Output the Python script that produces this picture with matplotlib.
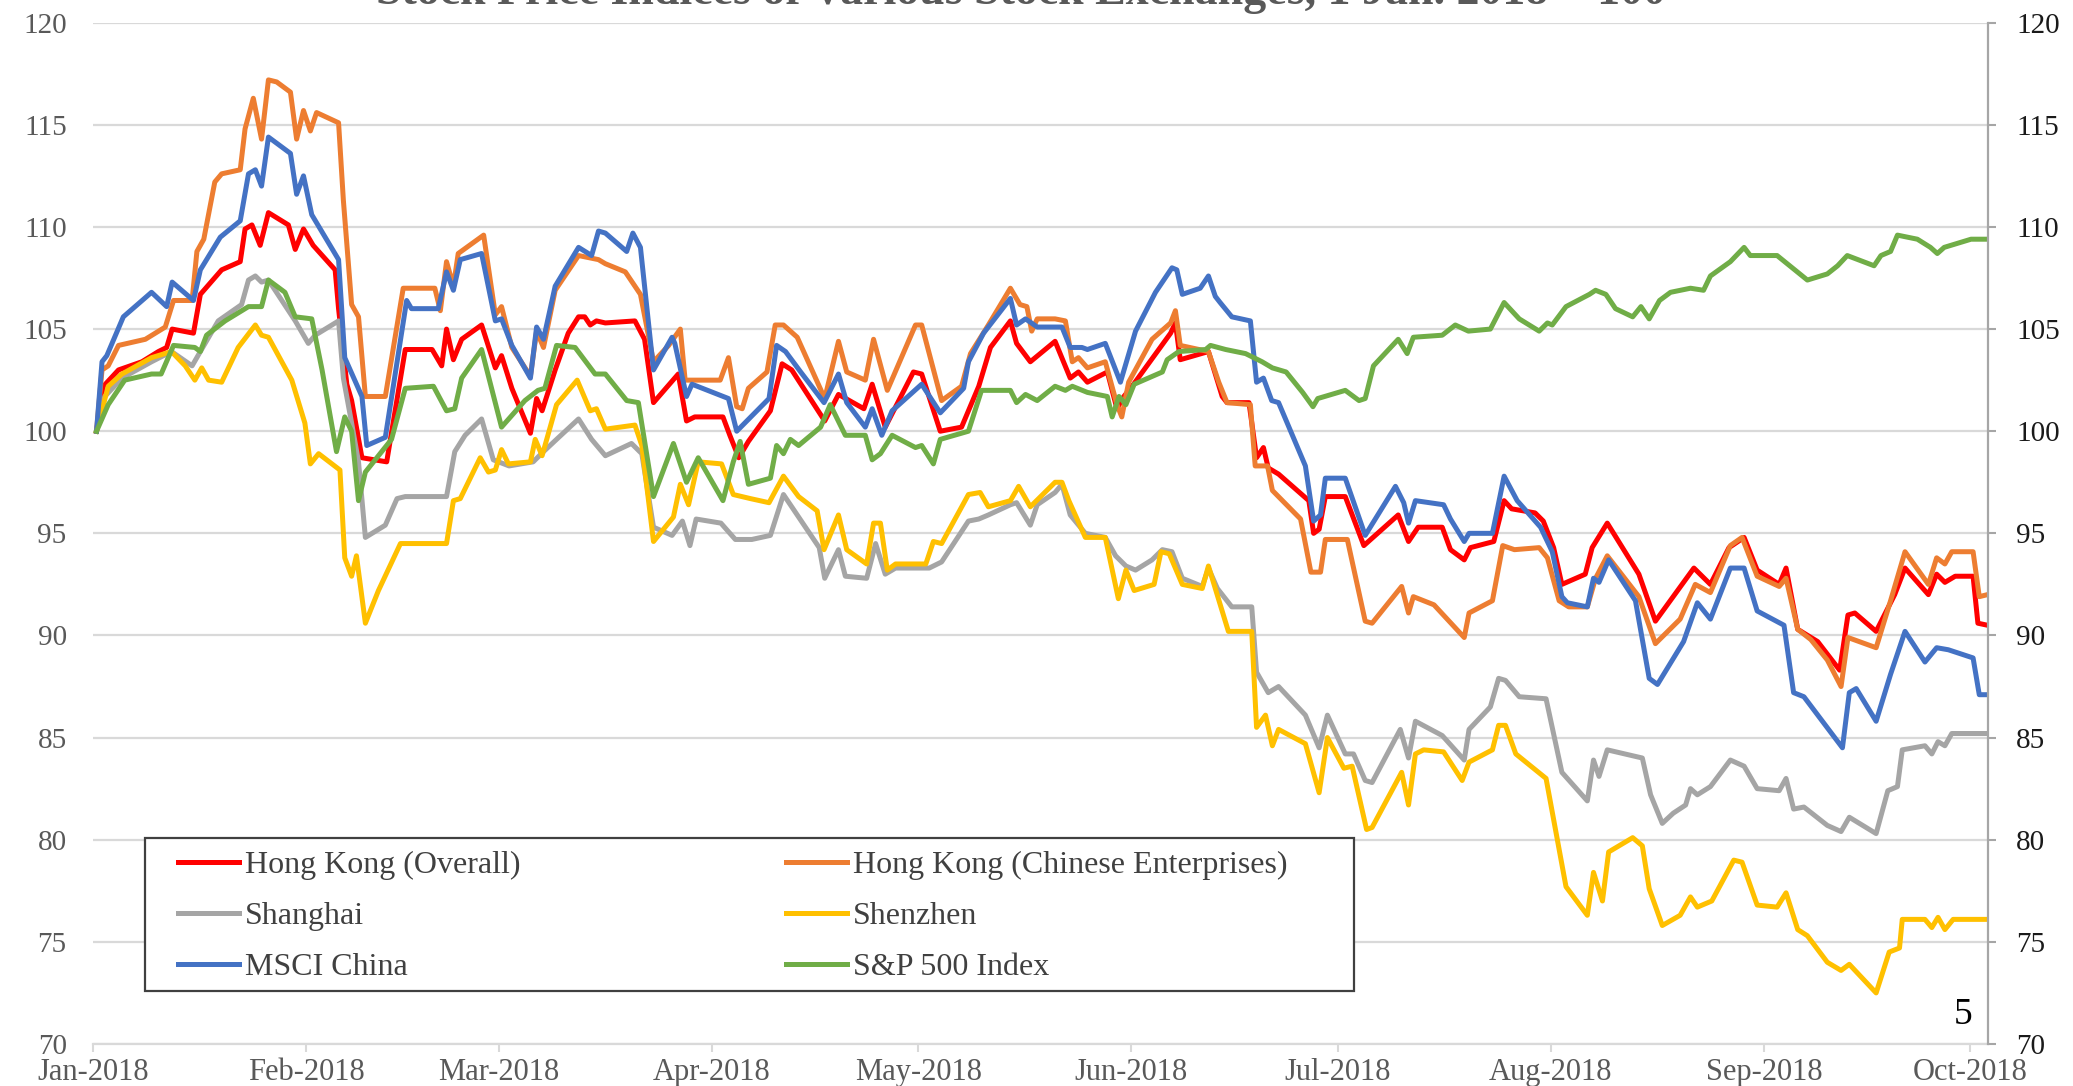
import matplotlib
matplotlib.use('Agg')
import matplotlib.pyplot as plt
from matplotlib.patches import Rectangle

plt.rcParams['font.family'] = ['Liberation Serif', 'DejaVu Serif']

# x = days since 1 Jan 2018, y = index (1 Jan 2018 = 100)
month_days = [0, 31, 59, 90, 120, 151, 181, 212, 243, 273]
month_labels = ['Jan-2018', 'Feb-2018', 'Mar-2018', 'Apr-2018', 'May-2018',
                'Jun-2018', 'Jul-2018', 'Aug-2018', 'Sep-2018', 'Oct-2018']
y_ticks = [70, 75, 80, 85, 90, 95, 100, 105, 110, 115, 120]

hk_overall = [
    (0.5, 100), (1.5, 102.2), (3.7, 103.0), (7.1, 103.4), (9.5, 103.9), (10.7, 104.1), (11.5, 105.0),
    (14.6, 104.8), (15.6, 106.7), (18.7, 107.9), (21.4, 108.3), (22.1, 109.9), (23.1, 110.1), (24.3, 109.1),
    (25.5, 110.7), (28.4, 110.1), (29.4, 108.9), (30.6, 109.9), (32.0, 109.1), (35.2, 107.9), (35.7, 106.0),
    (36.9, 102.3), (37.6, 101.5), (39.1, 98.7), (42.7, 98.5), (45.4, 104.0), (49.3, 104.0), (50.7, 103.2),
    (51.4, 105.0), (52.4, 103.5), (53.6, 104.5), (56.5, 105.2), (58.5, 103.1), (59.4, 103.7), (60.9, 102.1),
    (63.6, 99.9), (64.5, 101.6), (65.3, 101.0), (67.2, 103.0), (69.1, 104.8), (70.6, 105.6), (71.5, 105.6),
    (72.3, 105.2), (73.2, 105.4), (74.5, 105.3), (78.8, 105.4), (80.2, 104.5), (81.5, 101.4), (85.1, 102.8),
    (86.3, 100.5), (87.5, 100.7), (91.6, 100.7), (92.6, 99.8), (93.9, 98.7), (95.3, 99.5), (98.5, 101.0),
    (100.2, 103.3), (101.6, 103.0), (106.4, 100.5), (108.4, 101.8), (112.1, 101.1), (113.3, 102.3),
    (115.2, 100.2), (119.3, 102.9), (120.5, 102.8), (123.2, 100.0), (126.3, 100.2), (128.8, 102.2),
    (130.5, 104.1), (133.4, 105.4), (134.3, 104.3), (136.3, 103.4), (139.9, 104.4), (142.1, 102.6),
    (143.3, 102.9), (144.6, 102.4), (147.5, 102.9), (148.9, 101.1), (149.9, 101.7), (151.1, 102.2),
    (156.7, 104.8), (157.4, 105.3), (158.1, 103.5), (162.2, 103.9), (164.2, 101.7), (164.9, 101.4),
    (168.1, 101.4), (169.2, 98.7), (170.2, 99.2), (170.9, 98.2), (172.4, 97.9), (176.8, 96.6), (177.5, 95.0),
    (178.3, 95.2), (179.2, 96.8), (182.1, 96.8), (184.8, 94.4), (189.8, 95.9), (191.3, 94.6), (192.7, 95.3),
    (196.2, 95.3), (197.4, 94.2), (199.4, 93.7), (200.3, 94.3), (203.7, 94.6), (205.2, 96.6), (206.3, 96.2),
    (209.7, 96.0), (210.9, 95.6), (212.4, 94.3), (213.6, 92.5), (217.0, 93.0), (218.0, 94.3), (220.2, 95.5),
    (224.8, 93.0), (227.2, 90.7), (232.8, 93.3), (235.2, 92.5), (237.9, 94.3), (240.1, 94.8), (242.0, 93.2),
    (245.2, 92.5), (246.2, 93.3), (247.9, 90.3), (250.8, 89.7), (254.0, 88.3), (255.2, 91.0), (256.2, 91.1),
    (259.3, 90.2), (262.0, 92.0), (263.5, 93.3), (266.9, 92.0), (268.1, 93.0), (269.3, 92.6), (270.8, 92.9),
    (273.4, 92.9), (274.1, 90.6), (275.5, 90.5),
]

hk_chinese = [
    (0.5, 100), (1.3, 103.0), (2.2, 103.2), (3.7, 104.2), (7.6, 104.5), (10.5, 105.1), (11.7, 106.4),
    (14.4, 106.4), (15.1, 108.8), (16.1, 109.4), (17.7, 112.2), (18.7, 112.6), (21.4, 112.8), (22.1, 114.8),
    (23.3, 116.3), (24.5, 114.3), (25.5, 117.2), (26.7, 117.1), (28.7, 116.6), (29.6, 114.3), (30.6, 115.7),
    (31.6, 114.7), (32.5, 115.6), (35.7, 115.1), (36.4, 111.3), (37.6, 106.2), (38.6, 105.6), (39.6, 101.7),
    (42.5, 101.7), (45.1, 107.0), (49.7, 107.0), (50.5, 105.9), (51.4, 108.3), (52.4, 107.1), (53.1, 108.7),
    (56.8, 109.6), (58.5, 105.7), (59.4, 106.1), (60.9, 104.1), (63.6, 102.7), (64.5, 104.9), (65.5, 104.1),
    (67.2, 106.9), (70.6, 108.6), (73.5, 108.4), (74.5, 108.2), (77.4, 107.8), (79.6, 106.7), (81.5, 103.4),
    (83.7, 104.2), (85.4, 105.0), (86.1, 102.5), (91.2, 102.5), (92.4, 103.6), (93.6, 101.2), (94.4, 101.1),
    (95.3, 102.1), (98.0, 102.9), (99.2, 105.2), (100.4, 105.2), (102.4, 104.6), (106.4, 101.6),
    (108.4, 104.4), (109.6, 102.9), (112.3, 102.5), (113.5, 104.5), (115.5, 102.0), (119.6, 105.2),
    (120.5, 105.2), (123.4, 101.5), (126.3, 102.2), (127.6, 103.8), (130.2, 105.2), (133.4, 107.0),
    (134.8, 106.2), (135.8, 106.1), (136.5, 104.9), (137.3, 105.5), (139.9, 105.5), (141.4, 105.4),
    (142.4, 103.4), (143.3, 103.6), (144.6, 103.1), (147.2, 103.4), (148.9, 101.3), (149.6, 100.7),
    (150.6, 102.4), (154.0, 104.5), (156.7, 105.3), (157.4, 105.9), (158.1, 104.2), (162.2, 103.9),
    (163.7, 102.4), (164.9, 101.4), (168.3, 101.3), (169.0, 98.3), (170.8, 98.3), (171.5, 97.1),
    (175.6, 95.7), (177.1, 93.1), (178.5, 93.1), (179.2, 94.7), (182.4, 94.7), (185.0, 90.7), (186.0, 90.6),
    (190.3, 92.4), (191.3, 91.1), (192.0, 91.9), (195.0, 91.5), (197.2, 90.7), (199.4, 89.9), (200.1, 91.1),
    (203.5, 91.7), (205.0, 94.4), (206.7, 94.2), (210.3, 94.3), (211.5, 93.8), (213.2, 91.7), (214.6, 91.4),
    (217.3, 91.4), (218.5, 92.8), (220.2, 93.9), (224.8, 91.9), (227.2, 89.6), (230.8, 90.8), (233.0, 92.5),
    (235.2, 92.1), (238.1, 94.4), (239.8, 94.8), (242.0, 92.9), (245.2, 92.4), (246.2, 92.8), (247.9, 90.3),
    (249.8, 89.8), (252.2, 88.8), (254.2, 87.5), (255.2, 89.9), (259.3, 89.4), (261.4, 91.7), (263.5, 94.1),
    (266.9, 92.5), (268.1, 93.8), (269.3, 93.5), (270.3, 94.1), (273.4, 94.1), (274.3, 91.9), (275.5, 92.0),
]

shanghai = [
    (0.5, 100), (1.7, 101.7), (4.2, 102.6), (8.5, 103.4), (11.4, 103.9), (14.4, 103.2), (15.6, 103.9),
    (18.2, 105.4), (21.6, 106.2), (22.6, 107.4), (23.6, 107.6), (24.5, 107.3), (25.5, 107.4), (29.4, 105.4),
    (31.3, 104.3), (32.3, 104.7), (35.7, 105.4), (36.4, 102.6), (37.6, 100.4), (38.6, 98.5), (39.6, 94.8),
    (42.5, 95.4), (44.2, 96.7), (45.4, 96.8), (51.4, 96.8), (52.6, 99.0), (54.1, 99.8), (56.5, 100.6),
    (58.2, 98.6), (60.5, 98.3), (64.0, 98.5), (65.5, 99.0), (67.4, 99.6), (70.6, 100.6), (72.5, 99.6),
    (74.5, 98.8), (78.3, 99.4), (79.8, 98.9), (81.5, 95.3), (84.2, 94.9), (85.7, 95.6), (86.8, 94.4),
    (87.7, 95.7), (91.3, 95.5), (93.4, 94.7), (95.8, 94.7), (98.5, 94.9), (100.4, 96.9), (102.4, 95.9),
    (105.6, 94.3), (106.4, 92.8), (108.4, 94.2), (109.4, 92.9), (112.5, 92.8), (113.8, 94.5), (115.2, 93.0),
    (116.7, 93.3), (121.6, 93.3), (123.4, 93.6), (127.3, 95.6), (128.8, 95.7), (130.2, 95.9), (133.4, 96.4),
    (134.3, 96.5), (136.3, 95.4), (137.3, 96.4), (139.9, 97.0), (140.9, 97.4), (142.1, 95.9), (144.3, 95.0),
    (147.2, 94.8), (148.7, 93.9), (150.2, 93.4), (151.6, 93.2), (154.0, 93.7), (155.5, 94.2), (156.9, 94.1),
    (158.4, 92.8), (161.3, 92.4), (162.2, 93.3), (163.5, 92.3), (165.6, 91.4), (168.5, 91.4), (169.2, 88.2),
    (170.9, 87.2), (172.4, 87.5), (176.3, 86.1), (178.3, 84.5), (179.5, 86.1), (182.1, 84.2), (183.3, 84.2),
    (185.0, 82.9), (186.0, 82.8), (190.1, 85.4), (191.3, 84.0), (192.3, 85.8), (196.2, 85.1), (199.4, 83.9),
    (200.1, 85.4), (203.2, 86.5), (204.4, 87.9), (205.4, 87.8), (207.4, 87.0), (211.3, 86.9), (213.6, 83.3),
    (217.3, 81.9), (218.2, 83.9), (219.0, 83.1), (220.2, 84.4), (225.3, 84.0), (226.5, 82.2), (228.2, 80.8),
    (229.8, 81.3), (231.6, 81.7), (232.3, 82.5), (233.3, 82.2), (235.2, 82.6), (238.1, 83.9), (240.1, 83.6),
    (242.0, 82.5), (245.2, 82.4), (246.2, 83.0), (247.3, 81.5), (248.8, 81.6), (252.2, 80.7), (254.2, 80.4),
    (255.4, 81.1), (259.3, 80.3), (261.0, 82.4), (262.4, 82.6), (263.1, 84.4), (266.4, 84.6), (267.4, 84.2),
    (268.3, 84.8), (269.3, 84.6), (270.3, 85.2), (275.5, 85.2),
]

shenzhen = [
    (0.5, 100), (2.2, 102.2), (4.2, 102.8), (8.5, 103.6), (11.4, 103.9), (13.4, 103.2), (14.8, 102.5),
    (15.8, 103.1), (16.8, 102.5), (18.7, 102.4), (21.1, 104.1), (23.6, 105.2), (24.5, 104.7), (25.5, 104.6),
    (28.9, 102.5), (30.8, 100.4), (31.6, 98.4), (32.8, 98.9), (35.9, 98.1), (36.6, 93.8), (37.6, 92.9),
    (38.3, 93.9), (39.6, 90.6), (41.5, 92.2), (44.7, 94.5), (51.4, 94.5), (52.4, 96.6), (53.4, 96.7),
    (56.3, 98.7), (57.5, 98.0), (58.5, 98.1), (59.4, 99.1), (60.4, 98.4), (63.6, 98.5), (64.3, 99.6),
    (65.3, 98.8), (67.4, 101.3), (70.4, 102.5), (72.3, 101.0), (73.2, 101.1), (74.5, 100.1), (78.8, 100.3),
    (79.8, 99.3), (81.5, 94.6), (84.4, 95.8), (85.4, 97.4), (86.6, 96.4), (88.0, 98.5), (91.4, 98.4),
    (93.1, 96.9), (95.6, 96.7), (98.3, 96.5), (100.4, 97.8), (102.6, 96.8), (105.3, 96.1), (106.3, 94.2),
    (108.4, 95.9), (109.6, 94.2), (112.5, 93.5), (113.5, 95.5), (114.5, 95.5), (115.5, 93.2), (116.7, 93.5),
    (121.1, 93.5), (122.2, 94.6), (123.4, 94.5), (127.3, 96.9), (129.0, 97.0), (130.2, 96.3), (133.4, 96.6),
    (134.6, 97.3), (136.3, 96.3), (139.9, 97.5), (140.9, 97.5), (141.9, 96.6), (144.3, 94.8), (147.2, 94.8),
    (149.1, 91.8), (150.2, 93.2), (151.4, 92.2), (154.3, 92.5), (155.3, 94.1), (156.5, 94.0), (158.4, 92.5),
    (161.3, 92.3), (162.2, 93.4), (163.2, 92.3), (165.1, 90.2), (168.5, 90.2), (169.2, 85.5), (170.5, 86.1),
    (171.5, 84.6), (172.4, 85.4), (176.3, 84.7), (178.3, 82.3), (179.5, 85.0), (181.9, 83.5), (183.1, 83.6),
    (185.2, 80.5), (186.0, 80.6), (190.3, 83.3), (191.3, 81.7), (192.3, 84.2), (193.5, 84.4), (196.4, 84.3),
    (199.1, 82.9), (200.1, 83.8), (203.5, 84.4), (204.4, 85.6), (205.4, 85.6), (206.9, 84.2), (211.3, 83.0),
    (214.2, 77.7), (217.3, 76.3), (218.2, 78.4), (219.5, 77.0), (220.4, 79.4), (223.9, 80.1), (225.3, 79.7),
    (226.3, 77.6), (228.2, 75.8), (230.8, 76.3), (232.3, 77.2), (233.3, 76.7), (235.4, 77.0), (238.6, 79.0),
    (239.8, 78.9), (242.0, 76.8), (244.9, 76.7), (246.2, 77.4), (247.9, 75.6), (249.3, 75.3), (252.2, 74.0),
    (254.2, 73.6), (255.4, 73.9), (259.3, 72.5), (261.2, 74.5), (262.7, 74.7), (263.1, 76.1), (266.4, 76.1),
    (267.4, 75.7), (268.3, 76.2), (269.3, 75.6), (270.5, 76.1), (275.5, 76.1),
]

msci_china = [
    (0.5, 100), (1.3, 103.4), (2.0, 103.7), (4.4, 105.6), (8.5, 106.8), (10.7, 106.1), (11.5, 107.3),
    (14.6, 106.4), (15.6, 107.9), (18.5, 109.5), (21.4, 110.3), (22.6, 112.6), (23.6, 112.8), (24.5, 112.0),
    (25.5, 114.4), (28.7, 113.6), (29.6, 111.6), (30.6, 112.5), (31.8, 110.6), (35.7, 108.4), (36.6, 103.6),
    (39.1, 101.7), (39.8, 99.3), (42.5, 99.7), (45.6, 106.4), (46.3, 106.0), (50.2, 106.0), (51.4, 107.8),
    (52.4, 106.9), (53.4, 108.4), (56.5, 108.7), (58.5, 105.4), (59.4, 105.5), (60.9, 104.2), (63.6, 102.6),
    (64.5, 105.1), (65.5, 104.5), (67.2, 107.1), (70.6, 109.0), (72.5, 108.6), (73.5, 109.8), (74.5, 109.7),
    (77.6, 108.8), (78.5, 109.7), (79.6, 109.0), (81.5, 103.0), (84.2, 104.6), (84.6, 104.3), (86.3, 101.7),
    (87.1, 102.3), (92.4, 101.6), (93.6, 100.0), (98.3, 101.6), (99.4, 104.2), (100.7, 103.9),
    (102.9, 102.9), (106.3, 101.4), (108.4, 102.8), (109.6, 101.4), (112.3, 100.2), (113.3, 101.1),
    (114.7, 99.8), (116.2, 101.0), (120.5, 102.3), (123.2, 100.9), (126.6, 102.1), (127.3, 103.4),
    (129.5, 104.8), (133.4, 106.5), (134.3, 105.2), (135.6, 105.5), (137.3, 105.1), (140.9, 105.1),
    (142.1, 104.1), (143.8, 104.1), (144.6, 104.0), (147.2, 104.3), (149.4, 102.4), (151.6, 104.9),
    (154.5, 106.8), (156.9, 108.0), (157.6, 107.9), (158.4, 106.7), (161.0, 107.0), (162.2, 107.6),
    (163.2, 106.6), (163.9, 106.3), (165.6, 105.6), (168.3, 105.4), (169.2, 102.4), (170.2, 102.6),
    (171.4, 101.5), (172.4, 101.4), (176.3, 98.3), (177.5, 95.6), (178.5, 95.9), (179.2, 97.7), (182.1, 97.7),
    (185.0, 94.9), (189.4, 97.3), (190.6, 96.5), (191.3, 95.5), (192.3, 96.6), (196.4, 96.4), (197.4, 95.7),
    (199.4, 94.6), (200.1, 95.0), (203.5, 95.0), (205.2, 97.8), (207.1, 96.6), (210.5, 95.3), (212.2, 94.1),
    (213.6, 91.9), (214.4, 91.6), (217.3, 91.4), (218.2, 92.8), (219.0, 92.6), (220.4, 93.7), (224.3, 91.7),
    (226.3, 87.9), (227.5, 87.6), (231.3, 89.7), (233.3, 91.6), (235.2, 90.8), (238.1, 93.3), (240.1, 93.3),
    (242.0, 91.2), (245.9, 90.5), (247.3, 87.2), (248.8, 87.0), (254.4, 84.5), (255.4, 87.2), (256.4, 87.4),
    (259.3, 85.8), (261.4, 88.1), (263.5, 90.2), (266.4, 88.7), (268.1, 89.4), (269.8, 89.3), (273.4, 88.9),
    (274.3, 87.1), (275.5, 87.1),
]

sp500 = [
    (0.5, 100), (2.2, 101.3), (4.6, 102.5), (8.5, 102.8), (9.9, 102.8), (11.7, 104.2), (14.8, 104.1),
    (15.6, 103.9), (16.5, 104.7), (19.2, 105.4), (22.6, 106.1), (24.5, 106.1), (25.5, 107.4), (27.9, 106.8),
    (29.4, 105.6), (31.8, 105.5), (33.3, 103.0), (35.4, 99.0), (36.6, 100.7), (37.6, 100.0), (38.6, 96.6),
    (39.6, 98.0), (43.4, 99.6), (45.4, 102.1), (49.5, 102.2), (51.4, 101.0), (52.6, 101.1), (53.6, 102.6),
    (56.5, 104.0), (59.4, 100.2), (62.8, 101.5), (64.7, 102.0), (65.7, 102.1), (67.4, 104.2), (70.1, 104.1),
    (73.0, 102.8), (74.5, 102.8), (77.6, 101.5), (79.3, 101.4), (81.5, 96.8), (84.4, 99.4), (86.3, 97.5),
    (88.0, 98.7), (91.6, 96.6), (93.1, 98.5), (94.1, 99.5), (95.3, 97.4), (98.5, 97.7), (99.4, 99.3),
    (100.4, 98.9), (101.4, 99.6), (102.6, 99.3), (105.8, 100.2), (107.2, 101.3), (109.4, 99.8), (112.3, 99.8),
    (113.3, 98.6), (114.5, 98.9), (116.2, 99.8), (119.6, 99.2), (120.5, 99.3), (122.2, 98.4), (123.2, 99.6),
    (127.3, 100.0), (129.2, 102.0), (133.4, 102.0), (134.3, 101.4), (135.6, 101.8), (137.3, 101.5),
    (139.9, 102.2), (141.4, 102.0), (142.4, 102.2), (144.6, 101.9), (147.5, 101.7), (148.2, 100.7),
    (149.2, 101.7), (150.2, 101.3), (151.4, 102.3), (155.5, 102.9), (156.2, 103.5), (157.9, 103.9),
    (161.8, 104.0), (162.5, 104.2), (164.7, 104.0), (167.6, 103.8), (170.0, 103.4), (171.5, 103.1),
    (173.5, 102.9), (175.9, 101.9), (177.4, 101.2), (178.1, 101.6), (182.1, 102.0), (184.1, 101.5),
    (185.0, 101.6), (186.2, 103.2), (189.8, 104.5), (191.1, 103.8), (192.0, 104.6), (196.2, 104.7),
    (198.1, 105.2), (200.0, 104.9), (203.2, 105.0), (205.2, 106.3), (207.4, 105.5), (210.3, 104.9),
    (211.5, 105.3), (212.2, 105.2), (214.2, 106.1), (217.6, 106.7), (218.5, 106.9), (220.0, 106.7),
    (221.4, 106.0), (223.9, 105.6), (225.1, 106.1), (226.3, 105.5), (227.8, 106.4), (229.4, 106.8),
    (232.3, 107.0), (234.2, 106.9), (235.2, 107.6), (238.1, 108.3), (240.1, 109.0), (241.0, 108.6),
    (244.9, 108.6), (249.3, 107.4), (252.2, 107.7), (253.7, 108.1), (255.1, 108.6), (259.0, 108.1),
    (260.0, 108.6), (261.4, 108.8), (262.4, 109.6), (265.3, 109.4), (267.2, 109.0), (268.2, 108.7),
    (269.2, 109.0), (273.1, 109.4), (275.5, 109.4),
]

# drawing order follows the original workbook (later series on top)
series = [
    ('Hong Kong (Overall)', hk_overall, '#FF0000'),
    ('Hong Kong (Chinese Enterprises)', hk_chinese, '#ED7D31'),
    ('Shanghai', shanghai, '#A5A5A5'),
    ('Shenzhen', shenzhen, '#FFC000'),
    ('MSCI China', msci_china, '#4472C4'),
    ('S&P 500 Index', sp500, '#70AD47'),
]

fig = plt.figure(figsize=(20.73, 10.86), dpi=100)
ax = fig.add_axes([0.0449, 0.0387, 0.9142, 0.9404])

handles = {}
for name, pts, color in series:
    xs = [p[0] for p in pts]
    ys = [p[1] for p in pts]
    line, = ax.plot(xs, ys, color=color, lw=3.6, label=name, solid_joinstyle='round')
    handles[name] = line

ax.set_xlim(0, 275.6)
ax.set_ylim(70, 120)
ax.set_yticks(y_ticks)
ax.set_xticks(month_days)
ax.set_xticklabels(month_labels)
ax.grid(axis='y', color='#D9D9D9', lw=1.6, zorder=0)
ax.set_axisbelow(True)
for side in ['left', 'top', 'right']:
    ax.spines[side].set_visible(False)
ax.spines['bottom'].set_color('#D9D9D9')
ax.spines['bottom'].set_linewidth(1.6)
ax.tick_params(axis='x', length=6, width=1.5, color='#D9D9D9', labelcolor='#595959',
               labelsize=22, pad=4)
ax.tick_params(axis='y', length=0, labelcolor='#595959', labelsize=21, pad=19)

ax2 = ax.twinx()
ax2.set_ylim(70, 120)
ax2.set_yticks(y_ticks)
for side in ['left', 'top', 'bottom']:
    ax2.spines[side].set_visible(False)
ax2.spines['right'].set_color('#A6A6A6')
ax2.spines['right'].set_linewidth(1.6)
ax2.tick_params(axis='y', length=6, width=1.5, color='#A6A6A6', labelcolor='#1A1A1A',
                labelsize=21, pad=14)

# legend frame drawn separately so its size can follow the original
ax.add_patch(Rectangle((0.0274, 0.052), 0.6377, 0.1497, transform=ax.transAxes,
                       facecolor='white', edgecolor='#404040', lw=1.6, zorder=3))
order = ['Hong Kong (Overall)', 'Shanghai', 'MSCI China',
         'Hong Kong (Chinese Enterprises)', 'Shenzhen', 'S&P 500 Index']
leg = ax.legend([handles[n] for n in order], order, ncol=2, loc='upper left',
                bbox_to_anchor=(0.0449, 0.189), frameon=False, borderpad=0,
                borderaxespad=0, handlelength=1.9, handletextpad=0.2,
                columnspacing=8.3, labelspacing=0.68, fontsize=23, labelcolor='#404040')
leg.set_zorder(4)

fig.text(0.4926, 0.9965, 'Stock Price Indices of Various Stock Exchanges, 1 Jan. 2018 = 100',
         ha='center', va='baseline', fontsize=33, fontweight='bold', color='#595959')
fig.text(0.947, 0.0654, '5', ha='center', va='center', fontsize=27, color='black')

fig.savefig('out.png', dpi=100)
